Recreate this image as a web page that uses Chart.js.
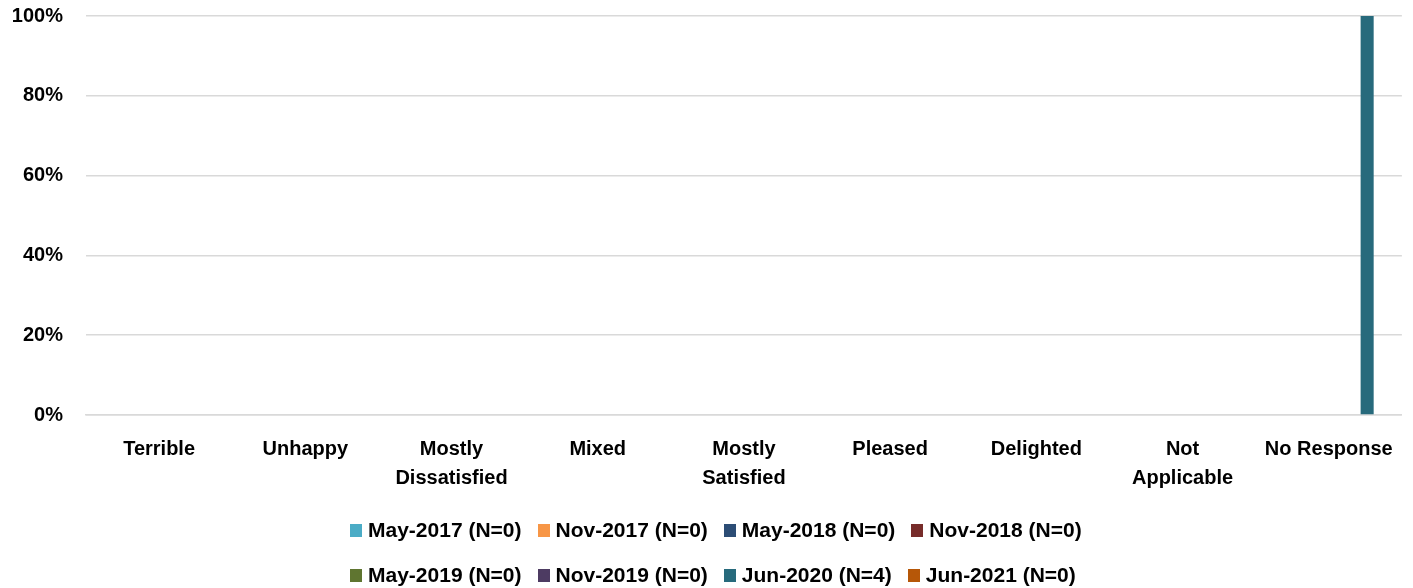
<!DOCTYPE html>
<html>
<head>
<meta charset="utf-8">
<script src="https://cdn.jsdelivr.net/npm/chart.js@4/dist/chart.umd.min.js"></script>
<style>
    html, body { margin: 0; padding: 0; background: #fff; }
    #wrap { position: relative; width: 1413px; height: 588px; }
    #legend { position: absolute; left: 350px; top: 0; font: bold 21px "Liberation Sans", Arial, sans-serif; color: #000; }
    .lg-row { position: absolute; left: 0; display: flex; white-space: nowrap; height: 24px; line-height: 24px; }
    .lg-item { display: flex; align-items: center; margin-right: 16px; }
    .lg-box { width: 12px; height: 13px; margin-right: 6px; }
</style>
</head>
<body>
<div id="wrap">
    <canvas id="chart" width="1413" height="588"></canvas>
    <div id="legend"></div>
</div>
<script>
/* Satisfaction survey — share of responses per wave */

const CATEGORIES = [
    'Terrible', 'Unhappy', ['Mostly', 'Dissatisfied'], 'Mixed', ['Mostly', 'Satisfied'],
    'Pleased', 'Delighted', ['Not', 'Applicable'], 'No Response'
];
const Y_TICKS = [0, 20, 40, 60, 80, 100];

const SERIES_LABELS = [
    'May-2017 (N=0)', 'Nov-2017 (N=0)', 'May-2018 (N=0)', 'Nov-2018 (N=0)',
    'May-2019 (N=0)', 'Nov-2019 (N=0)', 'Jun-2020 (N=4)', 'Jun-2021 (N=0)'
];

// percent values per category, one array per survey wave
const MAY_2017 = [0, 0, 0, 0, 0, 0, 0, 0, 0];
const NOV_2017 = [0, 0, 0, 0, 0, 0, 0, 0, 0];
const MAY_2018 = [0, 0, 0, 0, 0, 0, 0, 0, 0];
const NOV_2018 = [0, 0, 0, 0, 0, 0, 0, 0, 0];
const MAY_2019 = [0, 0, 0, 0, 0, 0, 0, 0, 0];
const NOV_2019 = [0, 0, 0, 0, 0, 0, 0, 0, 0];
const JUN_2020 = [0, 0, 0, 0, 0, 0, 0, 0, 100];
const JUN_2021 = [0, 0, 0, 0, 0, 0, 0, 0, 0];

const SERIES_VALUES = [MAY_2017, NOV_2017, MAY_2018, NOV_2018, MAY_2019, NOV_2019, JUN_2020, JUN_2021];

const COLORS = [
    '#4bacc6', '#f79646', '#2c4d75', '#772c2a',
    '#5f7530', '#4d3b62', '#276a7c', '#b65708'
];

const FONT = { family: '"Liberation Sans", Arial, sans-serif', size: 20, weight: 'bold' };
const GRID = '#d9d9d9';

const chart = new Chart(document.getElementById('chart').getContext('2d'), {
    type: 'bar',
    data: {
        labels: CATEGORIES,
        datasets: SERIES_LABELS.map((label, i) => ({
            label,
            data: SERIES_VALUES[i],
            backgroundColor: COLORS[i],
            borderWidth: 0,
            categoryPercentage: 0.84,
            barPercentage: 0.85,
        })),
    },
    options: {
        responsive: false,
        animation: false,
        layout: { padding: { top: 0, right: 6, bottom: 93, left: 0 } },
        plugins: { legend: { display: false }, tooltip: { enabled: false } },
        scales: {
            x: {
                grid: { display: false, drawTicks: false },
                border: { display: true, color: GRID, width: 1.5 },
                ticks: { color: '#000', font: { ...FONT, lineHeight: 1.45 }, padding: 20, maxRotation: 0, autoSkip: false },
                afterFit: s => { s.height = 80; },
            },
            y: {
                min: 0,
                max: 100,
                afterBuildTicks: s => { s.ticks = Y_TICKS.map(v => ({ value: v })); },
                grid: { color: GRID, lineWidth: 1.5, drawTicks: false },
                border: { display: false },
                ticks: { color: '#000', font: FONT, padding: 23, callback: v => v + '%' },
                afterFit: s => { s.width = 86; s.paddingTop = 16; s.paddingBottom = 0; },
            },
        },
    },
});

// legend in two rows of four, like the original
const legend = document.getElementById('legend');
const rowTops = [518, 563];
[0, 1].forEach(r => {
    const row = document.createElement('div');
    row.className = 'lg-row';
    row.style.top = rowTops[r] + 'px';
    chart.data.datasets.slice(r * 4, r * 4 + 4).forEach(ds => {
        const item = document.createElement('span');
        item.className = 'lg-item';
        item.innerHTML = `<span class="lg-box" style="background:${ds.backgroundColor}"></span><span>${ds.label}</span>`;
        row.appendChild(item);
    });
    legend.appendChild(row);
});
</script>
</body>
</html>
